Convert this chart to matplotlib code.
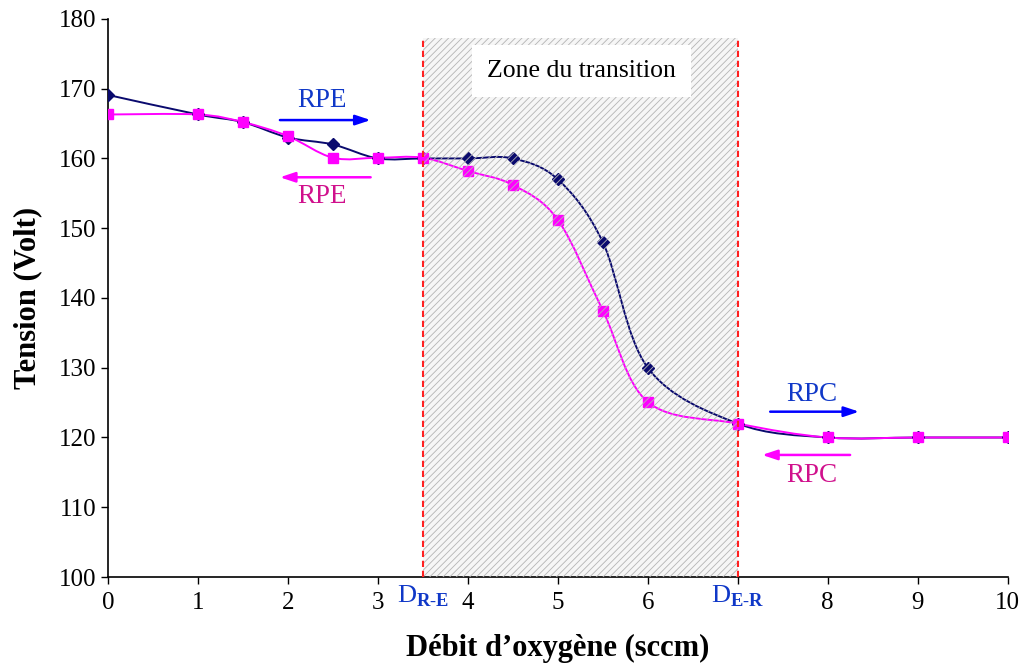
import matplotlib
matplotlib.use("Agg")
import matplotlib.pyplot as plt
from matplotlib.path import Path
from matplotlib import patches
import numpy as np

plt.rcParams['font.family'] = ['Liberation Serif', 'DejaVu Serif']
plt.rcParams['mathtext.fontset'] = 'custom'
plt.rcParams['mathtext.rm'] = 'Liberation Serif'
plt.rcParams['mathtext.bf'] = 'Liberation Serif:bold'
plt.rcParams['hatch.linewidth'] = 0.6
plt.rcParams['hatch.color'] = '#b4b4b4'

# data
debit = [0, 1, 1.5, 2, 2.5, 3, 3.5, 4, 4.5, 5, 5.5, 6, 7, 8, 9, 10]
tension_aller = [169.1, 166.3, 165.2, 163.0, 162.0, 160.0, 160.0, 160.0, 160.0,
                 157.0, 148.0, 130.0, 122.0, 120.0, 120.0, 120.0]
tension_retour = [166.3, 166.3, 165.2, 163.2, 160.1, 160.1, 160.1, 158.2, 156.2,
                  151.2, 138.2, 125.1, 122.0, 120.0, 120.0, 120.0]
d_re = 3.5
d_er = 7
xtick_pos = [0, 1, 2, 3, 4, 5, 6, 7, 8, 9, 10]
xtick_lab = ['0', '1', '2', '3', '4', '5', '6', '', '8', '9', '10']

blue = '#0a0a6e'
pink = '#ff00ff'
txt_blue = '#1038c8'
txt_pink = '#d0108c'


def smooth_path(x, y):
    # smoothed line like the spreadsheet one (Bezier through the points)
    pts = np.column_stack([x, y])
    n = len(pts)
    verts = [pts[0]]
    codes = [Path.MOVETO]
    for i in range(n - 1):
        p0 = pts[max(i - 1, 0)]
        p1 = pts[i]
        p2 = pts[i + 1]
        p3 = pts[min(i + 2, n - 1)]
        verts += [p1 + (p2 - p0) / 6, p2 - (p3 - p1) / 6, p2]
        codes += [Path.CURVE4] * 3
    return Path(verts, codes)


fig = plt.figure(figsize=(10.24, 6.66), dpi=100)
ax = fig.add_axes([0.1055, 0.1336, 0.8785, 0.838])

# transition zone
ax.add_patch(patches.Rectangle((d_re, 100), d_er - d_re, 77.3,
                               facecolor='#f6f6f6', edgecolor='none', zorder=0))
ax.add_patch(patches.Rectangle((d_re, 100), d_er - d_re, 77.3, facecolor='none',
                               edgecolor='#b4b4b4', linewidth=0, hatch='/////', zorder=5))
for xv in (d_re, d_er):
    ax.plot([xv, xv], [100, 177.3], color='#ff2020', ls=(0, (3, 1.8)), lw=1.5, zorder=6)

ax.add_patch(patches.PathPatch(smooth_path(debit, tension_aller), facecolor='none',
                               edgecolor=blue, lw=1.4, zorder=3))
ax.add_patch(patches.PathPatch(smooth_path(debit, tension_retour), facecolor='none',
                               edgecolor=pink, lw=1.4, zorder=3))
ax.plot(debit, tension_aller, ls='none', marker='D', ms=6, color=blue, zorder=3.5)
ax.plot(debit, tension_retour, ls='none', marker='s', ms=7, color=pink, zorder=4)

ax.text(5.26, 172.5, 'Zone du transition', ha='center', va='center', fontsize=18.5,
        zorder=7, bbox=dict(facecolor='white', edgecolor='none', pad=11))

# arrows
arrow = dict(arrowstyle='-|>,head_length=0.9,head_width=0.3', lw=1.8)
ax.annotate('', xy=(2.95, 165.5), xytext=(1.88, 165.5),
            arrowprops=dict(color='#0000ff', **arrow), zorder=8)
ax.text(2.38, 168.3, 'RPE', color=txt_blue, fontsize=19.5, ha='center', va='center')
ax.annotate('', xy=(1.88, 157.3), xytext=(2.95, 157.3),
            arrowprops=dict(color=pink, **arrow), zorder=8)
ax.text(2.38, 154.6, 'RPE', color=txt_pink, fontsize=19.5, ha='center', va='center')
ax.annotate('', xy=(8.38, 123.7), xytext=(7.33, 123.7),
            arrowprops=dict(color='#0000ff', **arrow), zorder=8)
ax.text(7.82, 126.2, 'RPC', color=txt_blue, fontsize=19.5, ha='center', va='center')
ax.annotate('', xy=(7.24, 117.5), xytext=(8.28, 117.5),
            arrowprops=dict(color=pink, **arrow), zorder=8)
ax.text(7.82, 114.5, 'RPC', color=txt_pink, fontsize=19.5, ha='center', va='center')

ax.set_xlim(0, 10)
ax.set_ylim(100, 180)
ax.set_xticks(xtick_pos)
ax.set_xticklabels(xtick_lab)
ax.set_yticks(np.arange(100, 181, 10))
ax.tick_params(labelsize=18, direction='out', length=5, width=1)
ax.tick_params(axis='x', pad=6)
for s in ('top', 'right'):
    ax.spines[s].set_visible(False)
for s in ('left', 'bottom'):
    ax.spines[s].set_linewidth(1.2)

# D labels on the x axis
ax.text(d_re, -0.012, r'D$_{\mathbf{R\text{-}E}}$', transform=ax.get_xaxis_transform(),
        ha='center', va='top', fontsize=19, color=txt_blue)
ax.text(d_er, -0.012, r'D$_{\mathbf{E\text{-}R}}$', transform=ax.get_xaxis_transform(),
        ha='center', va='top', fontsize=19, color=txt_blue)

ax.set_xlabel('Débit d’oxygène (sccm)', fontsize=22, fontweight='bold', labelpad=14)
ax.set_ylabel('Tension (Volt)', fontsize=22, fontweight='bold', labelpad=12)

fig.savefig('out.png', dpi=100)
